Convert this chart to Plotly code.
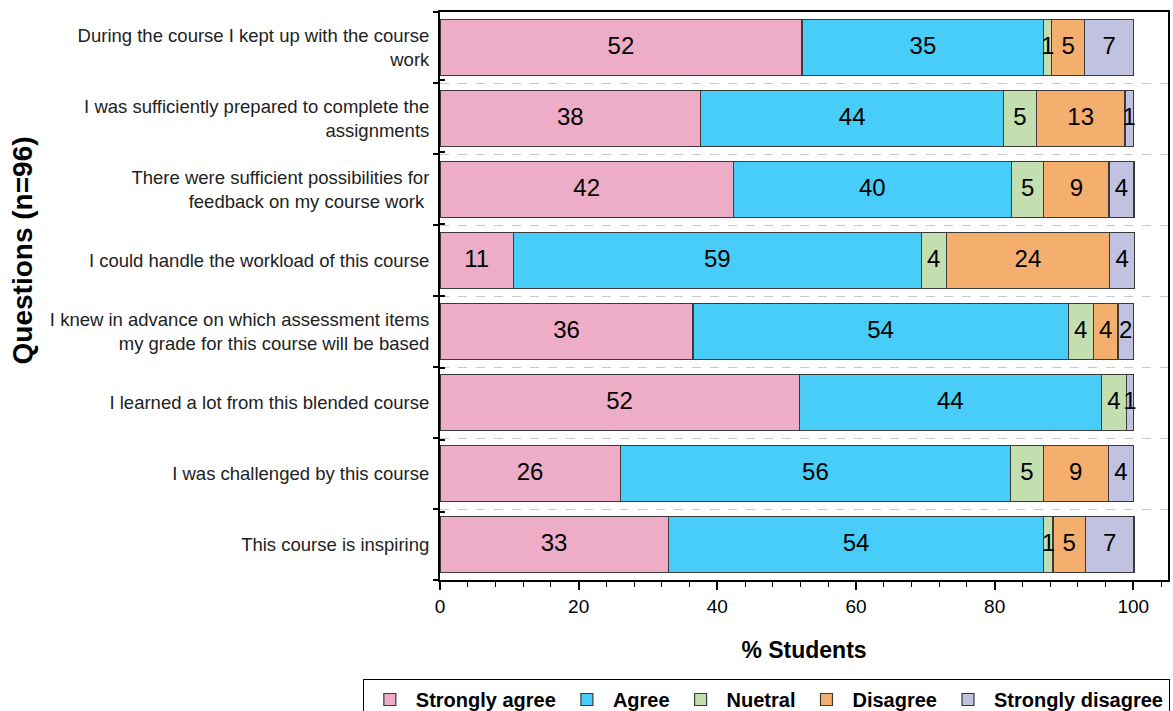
import plotly.graph_objects as go

questions = [
    "During the course I kept up with the course<br>work",
    "I was sufficiently prepared to complete the<br>assignments",
    "There were sufficient possibilities for<br>feedback on my course work ",
    "I could handle the workload of this course",
    "I knew in advance on which assessment items<br>my grade for this course will be based",
    "I learned a lot from this blended course",
    "I was challenged by this course",
    "This course is inspiring",
]
series_names = ["Strongly agree", "Agree", "Nuetral", "Disagree", "Strongly disagree"]
strongly_agree = [52.2, 37.6, 42.3, 10.6, 36.5, 51.8, 26.0, 32.9]
agree = [34.9, 43.7, 40.1, 58.8, 54.1, 43.6, 56.3, 54.2]
neutral = [1.1, 4.7, 4.7, 3.6, 3.6, 3.6, 4.7, 1.3]
disagree = [4.8, 12.8, 9.4, 23.6, 3.6, 0.0, 9.4, 4.7]
strongly_disagree = [7.0, 1.2, 3.6, 3.6, 2.2, 1.0, 3.6, 7.0]
colors = ["#EDADC7", "#48CDF9", "#C3DFAF", "#F4AE6D", "#C1C1E0"]

series = [strongly_agree, agree, neutral, disagree, strongly_disagree]
FONT = "Arial, Liberation Sans, sans-serif"

fig = go.Figure()
for name, vals, col in zip(series_names, series, colors):
    fig.add_trace(go.Bar(
        y=questions, x=vals, name=name, orientation="h",
        marker=dict(color=col, line=dict(color="#3a3a3a", width=1.2)),
        hoverinfo="x+name",
    ))

# value labels at the centre of each segment (computed from the data)
cum = [0.0] * len(questions)
for vals in series:
    mids, texts = [], []
    for i, v in enumerate(vals):
        mids.append(cum[i] + v / 2)
        texts.append(f"{v:.0f}" if v > 0 else "")
        cum[i] += v
    fig.add_trace(go.Scatter(
        x=mids, y=questions, mode="text", text=texts,
        textfont=dict(family=FONT, size=24, color="black"),
        showlegend=False, hoverinfo="skip",
    ))

# invisible trace on an overlaid axis to get inward ticks (crossing ticks)
fig.add_trace(go.Scatter(
    x=[0] * len(questions), y=questions, yaxis="y2", mode="markers",
    marker=dict(opacity=0), showlegend=False, hoverinfo="skip",
))

fig.update_layout(
    barmode="stack",
    bargap=0.21,
    width=1173, height=711,
    margin=dict(l=440, r=5, t=12, b=131, autoexpand=False),
    paper_bgcolor="white", plot_bgcolor="white",
    font=dict(family=FONT, color="black"),
    xaxis=dict(
        range=[0, 105], dtick=20, tick0=0,
        ticks="outside", ticklen=8, tickwidth=1.5, tickcolor="black",
        minor=dict(dtick=4, ticks="outside", ticklen=5, tickwidth=1.2, tickcolor="black"),
        showline=True, linecolor="black", linewidth=2, mirror=True,
        showgrid=False, zeroline=False,
        tickfont=dict(size=19, color="black"),
        title=dict(text="<b>% Students</b>", font=dict(size=23), standoff=26),
    ),
    yaxis=dict(
        type="category", categoryorder="array", categoryarray=questions[::-1],
        tickson="boundaries", ticks="outside", ticklen=5, tickwidth=2, tickcolor="black",
        showline=True, linecolor="black", linewidth=2, mirror=True,
        showgrid=True, gridcolor="#c8c8c8", griddash="dash", gridwidth=1,
        tickfont=dict(size=18.5, color="#222222"),
        ticklabelstandoff=5,
    ),
    yaxis2=dict(
        type="category", categoryorder="array", categoryarray=questions[::-1],
        overlaying="y", side="left", tickson="boundaries",
        ticks="inside", ticklen=5, tickwidth=2, tickcolor="black",
        showticklabels=False, showgrid=False, showline=False, zeroline=False,
    ),
    legend=dict(
        orientation="h", x=-0.106, xanchor="left", y=-0.1743, yanchor="top",
        bordercolor="black", borderwidth=1, bgcolor="white",
        font=dict(size=20, weight="bold"),
        traceorder="normal", itemwidth=42,
    ),
    annotations=[dict(
        text="<b>Questions (n=96)</b>", textangle=-90,
        xref="paper", yref="paper", x=-0.573, y=0.58,
        xanchor="center", yanchor="middle", showarrow=False,
        font=dict(size=28, family=FONT, color="black"),
    )],
)

fig.write_html("out.html")
